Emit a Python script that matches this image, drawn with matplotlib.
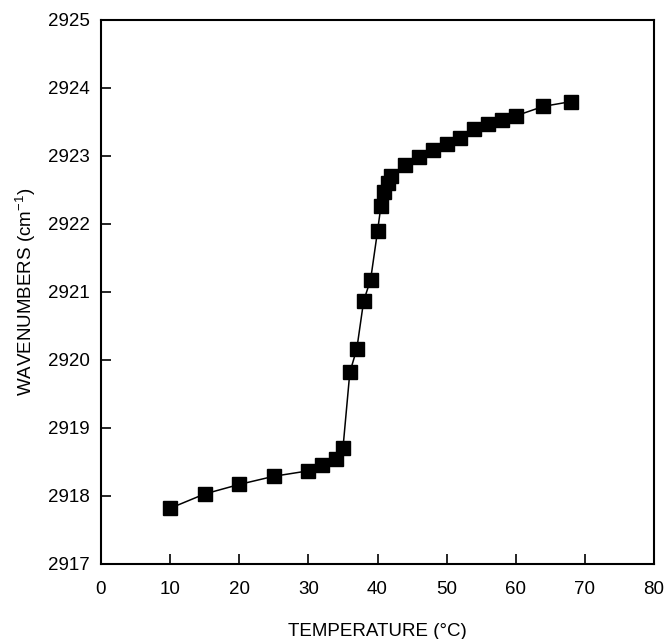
import matplotlib
matplotlib.use("Agg")
import matplotlib.pyplot as plt

temperature = [10, 15, 20, 25, 30, 32, 34, 35, 36, 37, 38, 39, 40, 40.5, 41, 41.5, 42,
               44, 46, 48, 50, 52, 54, 56, 58, 60, 64, 68]
wavenumbers = [2917.82, 2918.03, 2918.17, 2918.29, 2918.37, 2918.46, 2918.55, 2918.70,
               2919.82, 2920.16, 2920.87, 2921.18, 2921.89, 2922.27, 2922.47, 2922.60,
               2922.70, 2922.87, 2922.99, 2923.09, 2923.18, 2923.26, 2923.40, 2923.47,
               2923.53, 2923.59, 2923.73, 2923.80]
x_ticks = [0, 10, 20, 30, 40, 50, 60, 70, 80]
y_ticks = [2917, 2918, 2919, 2920, 2921, 2922, 2923, 2924, 2925]

plt.rcParams['font.family'] = ['Liberation Sans', 'DejaVu Sans']
plt.rcParams['mathtext.fontset'] = 'custom'
plt.rcParams['mathtext.rm'] = 'Liberation Sans'
plt.rcParams['mathtext.it'] = 'Liberation Sans'
plt.rcParams['mathtext.default'] = 'regular'

fig = plt.figure(figsize=(6.65, 6.39), dpi=100)
ax = fig.add_axes([101/665, 1 - 564/639, (654-101)/665, (564-20)/639])

ax.plot(temperature, wavenumbers, color='black', linewidth=1.1,
        marker='s', markersize=9.5, markerfacecolor='black', markeredgecolor='black')

ax.set_xlim(0, 80)
ax.set_ylim(2917, 2925)
ax.set_xticks(x_ticks)
ax.set_yticks(y_ticks)
ax.set_xticklabels([str(t) for t in x_ticks])
ax.set_yticklabels([str(t) for t in y_ticks])

for s in ax.spines.values():
    s.set_linewidth(1.5)

ax.tick_params(axis='both', direction='in', length=7, width=1.2, labelsize=13.5,
               top=False, right=False)
ax.tick_params(axis='x', pad=12)
ax.tick_params(axis='y', pad=8)

ax.set_xlabel('TEMPERATURE (°C)', fontsize=13.5, labelpad=18)
ax.set_ylabel('WAVENUMBERS (cm$^{-1}$)', fontsize=13.5, labelpad=7)

fig.savefig('out.png', dpi=100)
